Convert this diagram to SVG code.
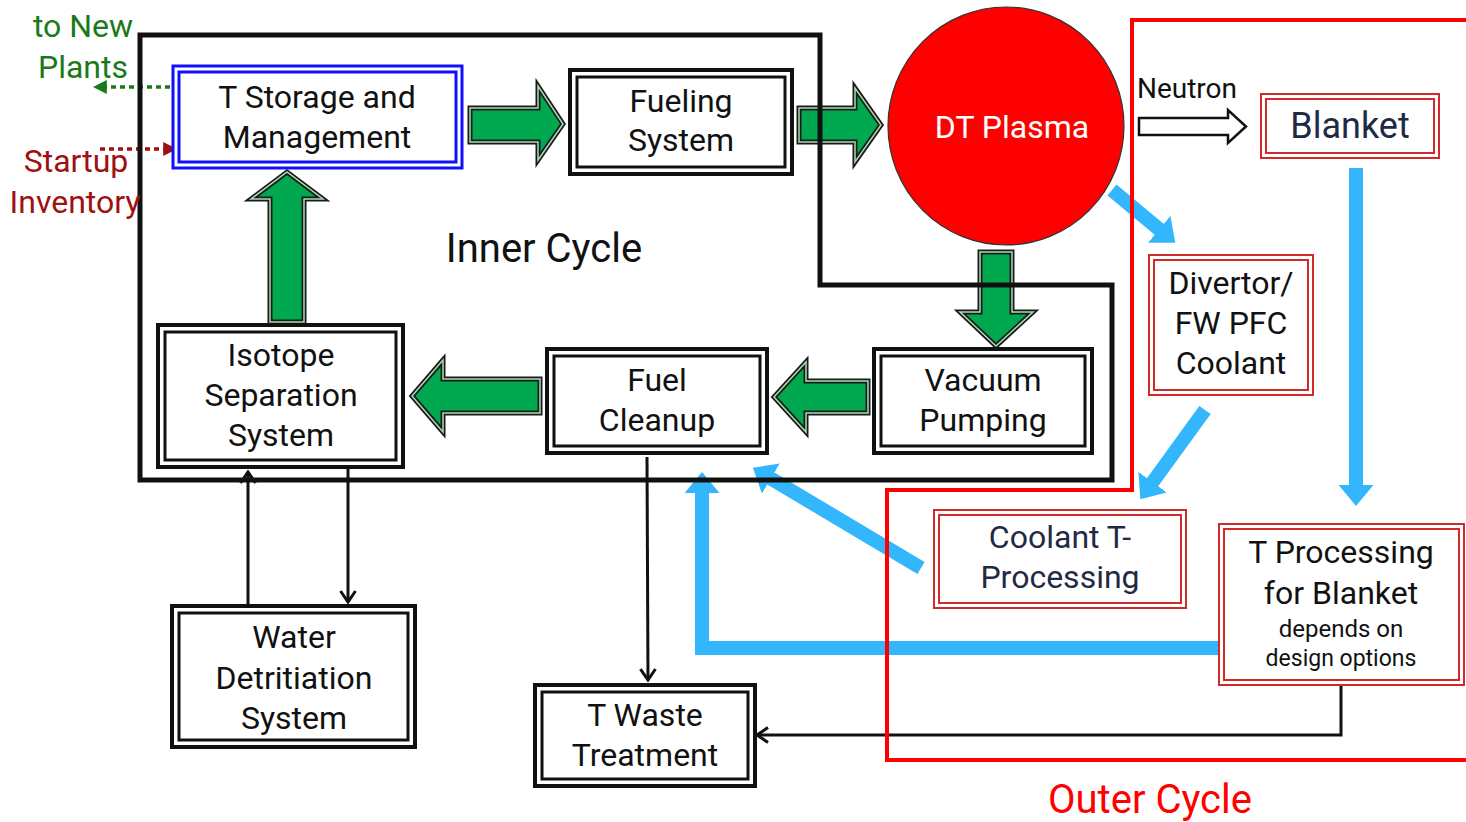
<svg xmlns="http://www.w3.org/2000/svg" width="1466" height="822" viewBox="0 0 1466 822">
<defs>
<style>
text{font-family:Roboto,"Liberation Sans",sans-serif;text-anchor:middle;fill:#111}
.t32{font-size:32px}
.navy{fill:#1f2a44}
.bo{fill:#fff;stroke:#111;stroke-width:4}
.bi{fill:none;stroke:#111;stroke-width:3}
.ro{fill:#fff;stroke:#d02a2a;stroke-width:2}
.ri{fill:none;stroke:#d02a2a;stroke-width:2}
.garrow{fill:#00a84f;stroke:#1a1a1a;stroke-width:5;stroke-linejoin:miter}
.garrow2{fill:none;stroke:#a8dcb3;stroke-width:1.5}
.blue{fill:none;stroke:#33b6fb;stroke-width:14;marker-end:url(#bh)}
.blk{fill:none;stroke:#111;stroke-width:3;marker-end:url(#vh)}
</style>
<marker id="bh" viewBox="0 0 10 10" refX="0.5" refY="5" markerUnits="strokeWidth" markerWidth="1.5" markerHeight="2.5" orient="auto" preserveAspectRatio="none">
<path d="M0,0 L10,5 L0,10 z" fill="#33b6fb"/>
</marker>
<marker id="vh" viewBox="0 0 14 18" refX="12" refY="9" markerUnits="userSpaceOnUse" markerWidth="14" markerHeight="18" orient="auto">
<path d="M1,1.5 L12,9 L1,16.5" fill="none" stroke="#111" stroke-width="3"/>
</marker>
<marker id="gh" viewBox="0 0 10 10" refX="2" refY="5" markerUnits="userSpaceOnUse" markerWidth="14" markerHeight="14" orient="auto">
<path d="M0,0 L10,5 L0,10 z" fill="#1a7a1a"/>
</marker>
<marker id="rh" viewBox="0 0 10 10" refX="2" refY="5" markerUnits="userSpaceOnUse" markerWidth="14" markerHeight="14" orient="auto">
<path d="M0,0 L10,5 L0,10 z" fill="#a01010"/>
</marker>
</defs>
<rect width="1466" height="822" fill="#fff"/>

<!-- green flow arrows -->
<g id="green-arrows">
<path class="garrow" d="M470,108 L538,108 L538,86 L563,124 L538,160 L538,142 L470,142 Z"/>
<path class="garrow2" d="M470,108 L538,108 L538,86 L563,124 L538,160 L538,142 L470,142 Z"/>
<path class="garrow" d="M799,108 L855,108 L855,88 L881,125 L855,162 L855,142 L799,142 Z"/>
<path class="garrow2" d="M799,108 L855,108 L855,88 L881,125 L855,162 L855,142 L799,142 Z"/>
<path class="garrow" d="M270,322 L270,199 L251,199 L287,172 L323,199 L304,199 L304,322 Z"/>
<path class="garrow2" d="M270,322 L270,199 L251,199 L287,172 L323,199 L304,199 L304,322 Z"/>
<path class="garrow" d="M540,379 L443,379 L443,360 L412,396 L443,432 L443,413 L540,413 Z"/>
<path class="garrow2" d="M540,379 L443,379 L443,360 L412,396 L443,432 L443,413 L540,413 Z"/>
<path class="garrow" d="M868,381 L806,381 L806,362 L774,397 L806,432 L806,413 L868,413 Z"/>
<path class="garrow2" d="M868,381 L806,381 L806,362 L774,397 L806,432 L806,413 L868,413 Z"/>
<path class="garrow" d="M980,252 L1012,252 L1012,312 L1033,312 L996,346 L960,312 L980,312 Z"/>
<path class="garrow2" d="M980,252 L1012,252 L1012,312 L1033,312 L996,346 L960,312 L980,312 Z"/>
</g>

<!-- connectors -->
<g id="connectors">
<path class="blue" d="M1112,190 L1160,230"/>
<path class="blue" d="M1356,168 L1356,486"/>
<path class="blue" d="M1205,410 L1152,483"/>
<path class="blue" d="M921,568 L770,478"/>
<path class="blue" d="M1222,648 L702,648 L702,492" stroke-linejoin="miter"/>
<path class="blk" d="M248,604 L248,472"/>
<path class="blk" d="M348,469 L348,602"/>
<path class="blk" d="M647,457 L648,680"/>
<path class="blk" d="M1341,686 L1341,735 L757,735"/>
<path d="M170,87 L104,87" fill="none" stroke="#1a7a1a" stroke-width="3.5" stroke-dasharray="5,4" marker-end="url(#gh)"/>
<path d="M100,149 L166,149" fill="none" stroke="#a01010" stroke-width="3.5" stroke-dasharray="5,4" marker-end="url(#rh)"/>
<path d="M1139,118 L1228,118 L1228,110 L1246,126.5 L1228,143 L1228,135 L1139,135 Z" fill="#fff" stroke="#111" stroke-width="2.5"/>
</g>

<!-- cycle boundaries -->
<g id="inner-cycle">
<path d="M140,35 L820,35 L820,285 L1112,285 L1112,480 L140,480 Z" fill="none" stroke="#111" stroke-width="5"/>
<text x="544" y="262" style="font-size:40px">Inner Cycle</text>
</g>
<g id="outer-cycle">
<path d="M1466,20 L1132,20 L1132,490 L887,490 L887,760 L1466,760" fill="none" stroke="#ff0000" stroke-width="4"/>
<text x="1150" y="813" style="font-size:40px;fill:#ff0000">Outer Cycle</text>
</g>

<!-- side labels -->
<g id="to-new-plants">
<text class="t32" x="83" y="37" style="fill:#1a7a1a">to New</text>
<text class="t32" x="83" y="78" style="fill:#1a7a1a">Plants</text>
</g>
<g id="startup-inventory">
<text class="t32" x="76" y="172" style="fill:#a01010">Startup</text>
<text class="t32" x="75" y="213" style="fill:#a01010">Inventory</text>
</g>

<!-- nodes -->
<g id="t-storage">
<rect x="173" y="66" width="289" height="102" fill="#fff" stroke="#1010ff" stroke-width="3"/>
<rect x="179" y="72" width="277" height="90" fill="none" stroke="#1010ff" stroke-width="3"/>
<text class="t32" x="317" y="108">T Storage and</text>
<text class="t32" x="317" y="148">Management</text>
</g>
<g id="fueling">
<rect class="bo" x="570" y="70" width="222" height="104"/>
<rect class="bi" x="577" y="77" width="208" height="90"/>
<text class="t32" x="681" y="112">Fueling</text>
<text class="t32" x="681" y="151">System</text>
</g>
<g id="dt-plasma">
<ellipse cx="1006" cy="126" rx="118" ry="119" fill="#ff0000" stroke="#333" stroke-width="1.2"/>
<text class="t32" x="1012" y="138" style="fill:#fff">DT Plasma</text>
</g>
<g id="neutron-label">
<text x="1187" y="98" style="font-size:28px">Neutron</text>
</g>
<g id="blanket">
<rect class="ro" x="1261" y="94" width="178" height="64"/>
<rect class="ri" x="1266" y="99" width="168" height="54"/>
<text class="navy" x="1350" y="138" style="font-size:36px">Blanket</text>
</g>
<g id="isotope-separation">
<rect class="bo" x="158" y="325" width="245" height="142"/>
<rect class="bi" x="165" y="332" width="231" height="128"/>
<text class="t32" x="281" y="366">Isotope</text>
<text class="t32" x="281" y="406">Separation</text>
<text class="t32" x="281" y="446">System</text>
</g>
<g id="fuel-cleanup">
<rect class="bo" x="547" y="349" width="220" height="104"/>
<rect class="bi" x="554" y="356" width="206" height="90"/>
<text class="t32" x="657" y="391">Fuel</text>
<text class="t32" x="657" y="431">Cleanup</text>
</g>
<g id="vacuum-pumping">
<rect class="bo" x="874" y="349" width="218" height="104"/>
<rect class="bi" x="881" y="356" width="204" height="90"/>
<text class="t32" x="983" y="391">Vacuum</text>
<text class="t32" x="983" y="431">Pumping</text>
</g>
<g id="divertor">
<rect class="ro" x="1149" y="255" width="164" height="140"/>
<rect class="ri" x="1154" y="260" width="154" height="130"/>
<text class="t32" x="1231" y="294">Divertor/</text>
<text class="t32" x="1231" y="334">FW PFC</text>
<text class="t32" x="1231" y="374">Coolant</text>
</g>
<g id="coolant-t-processing">
<rect class="ro" x="934" y="510" width="252" height="98"/>
<rect class="ri" x="939" y="515" width="242" height="88"/>
<text class="t32 navy" x="1060" y="548">Coolant T-</text>
<text class="t32 navy" x="1060" y="588">Processing</text>
</g>
<g id="t-processing-blanket">
<rect class="ro" x="1219" y="524" width="245" height="161"/>
<rect class="ri" x="1224" y="529" width="235" height="151"/>
<text class="t32" x="1341" y="563">T Processing</text>
<text class="t32" x="1341" y="604">for Blanket</text>
<text x="1341" y="637" style="font-size:24px">depends on</text>
<text x="1341" y="666" style="font-size:23px">design options</text>
</g>
<g id="water-detritiation">
<rect class="bo" x="172" y="606" width="243" height="141"/>
<rect class="bi" x="179" y="613" width="229" height="127"/>
<text class="t32" x="294" y="648">Water</text>
<text class="t32" x="294" y="689">Detritiation</text>
<text class="t32" x="294" y="729">System</text>
</g>
<g id="t-waste">
<rect class="bo" x="535" y="685" width="220" height="101"/>
<rect class="bi" x="542" y="692" width="206" height="87"/>
<text class="t32" x="645" y="726">T Waste</text>
<text class="t32" x="645" y="766">Treatment</text>
</g>
</svg>
